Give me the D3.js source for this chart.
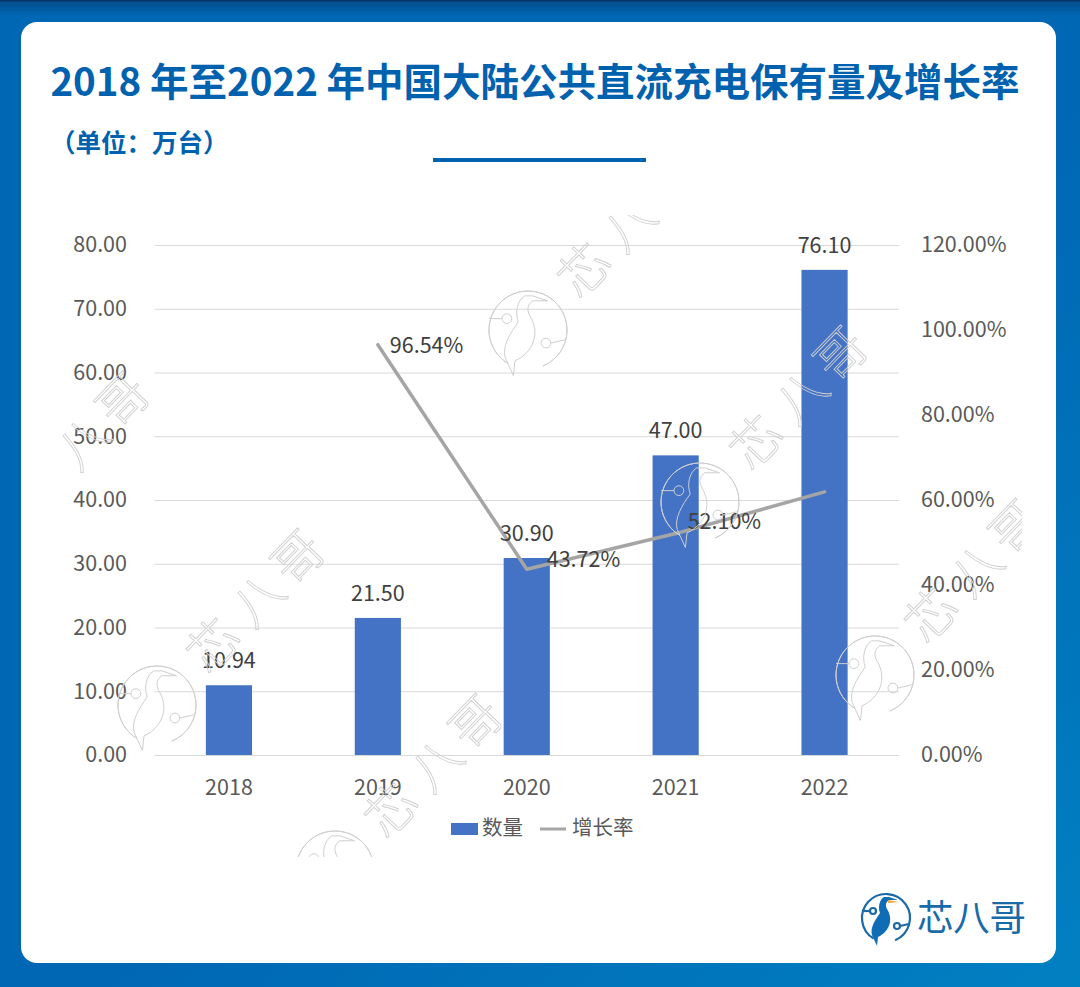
<!DOCTYPE html>
<html>
<head>
<meta charset="utf-8">
<script src="https://cdnjs.cloudflare.com/ajax/libs/d3/7.8.5/d3.min.js"></script>
<style>
  html, body { margin: 0; padding: 0; background: #0067b4; }
  svg { display: block; }
  text { font-family: "Noto Sans CJK SC", "Noto Sans", sans-serif; }
</style>
</head>
<body>
<div id="graph1"></div>
<script>
// data
const years = ["2018", "2019", "2020", "2021", "2022"];
const counts = [10.94, 21.50, 30.90, 47.00, 76.10];
const growth = [null, 96.54, 43.72, 52.10, 61.92];
const growthLabels = [null, "96.54%", "43.72%", "52.10%", null];
const leftTicks = [0, 10, 20, 30, 40, 50, 60, 70, 80];
const rightTicks = [0, 20, 40, 60, 80, 100, 120];
const legendNames = ["数量", "增长率"];

const width = 1080, height = 987;
const blue = "#0062ae", barColor = "#4472c4", lineColor = "#a5a5a5";

const svg = d3.select("#graph1").append("svg")
  .attr("width", width).attr("height", height);

const defs = svg.append("defs");
const bg = defs.append("linearGradient").attr("id", "bg")
  .attr("x1", 0).attr("y1", 0).attr("x2", 1).attr("y2", 1);
bg.append("stop").attr("offset", "55%").attr("stop-color", "#0067b4");
bg.append("stop").attr("offset", "100%").attr("stop-color", "#0180c2");
const topFade = defs.append("linearGradient").attr("id", "topFade")
  .attr("x1", 0).attr("y1", 0).attr("x2", 0).attr("y2", 1);
topFade.append("stop").attr("offset", "0%").attr("stop-color", "#0b2b5c");
topFade.append("stop").attr("offset", "15%").attr("stop-color", "#05508f");
topFade.append("stop").attr("offset", "100%").attr("stop-color", "#0067b4");
defs.append("clipPath").attr("id", "markClip").append("rect")
  .attr("x", 55).attr("y", 215).attr("width", 967).attr("height", 642);

svg.append("rect").attr("width", width).attr("height", height).attr("fill", "url(#bg)");
svg.append("rect").attr("width", width).attr("height", 16).attr("fill", "url(#topFade)");
svg.append("rect").attr("x", 21).attr("y", 22).attr("width", 1035).attr("height", 941)
  .attr("rx", 16).attr("fill", "#fff");

// headings
svg.append("text").attr("x", 535).attr("y", 96).attr("text-anchor", "middle")
  .attr("font-size", 38.5).attr("font-weight", 700).attr("fill", blue)
  .text("2018 年至2022 年中国大陆公共直流充电保有量及增长率");
svg.append("text").attr("x", 50).attr("y", 152)
  .attr("font-size", 25.5).attr("font-weight", 700).attr("fill", blue)
  .text("（单位：万台）");
svg.append("rect").attr("x", 433).attr("y", 158).attr("width", 213).attr("height", 4).attr("fill", blue);

// scales
const x = d3.scaleBand().domain(years).range([154.5, 899]).paddingInner(0.69).paddingOuter(0.345);
const y = d3.scaleLinear().domain([0, 80]).range([755, 245]);
const yRight = d3.scaleLinear().domain([0, 120]).range([755, 245]);
const cx = d => x(d) + x.bandwidth() / 2;

// grid
svg.append("g").attr("transform", "translate(154.5,0)")
  .call(d3.axisLeft(y).tickValues(leftTicks).tickSize(-744.5).tickFormat(""))
  .call(g => g.select(".domain").remove())
  .call(g => g.selectAll("line").attr("stroke", "#d9d9d9").attr("stroke-width", 1));

// axes
function styleAxis(g) {
  g.select(".domain").remove();
  g.selectAll("line").remove();
  g.selectAll("text").attr("font-size", 21.5).attr("fill", "#595959")
    .style("font-family", '"Noto Sans CJK SC", sans-serif');
}
svg.append("g").attr("transform", "translate(127,0)")
  .call(d3.axisLeft(y).tickValues(leftTicks).tickSize(0).tickPadding(0).tickFormat(d3.format(".2f")))
  .call(styleAxis);
svg.append("g").attr("transform", "translate(921,0)")
  .call(d3.axisRight(yRight).tickValues(rightTicks).tickSize(0).tickPadding(0).tickFormat(d => d3.format(".2f")(d) + "%"))
  .call(styleAxis);
svg.append("g").attr("transform", "translate(0,755)")
  .call(d3.axisBottom(x).tickSize(0).tickPadding(25))
  .call(styleAxis);

// bars
svg.append("g").selectAll("rect").data(years).join("rect")
  .attr("x", d => x(d))
  .attr("width", x.bandwidth())
  .attr("y", (d, i) => y(counts[i]))
  .attr("height", (d, i) => y(0) - y(counts[i]))
  .attr("fill", barColor);

// growth line
const line = d3.line()
  .defined(d => d.v !== null)
  .x(d => cx(d.year))
  .y(d => yRight(d.v));
svg.append("path")
  .datum(years.map((year, i) => ({ year: year, v: growth[i] })))
  .attr("d", line)
  .attr("fill", "none").attr("stroke", lineColor).attr("stroke-width", 3.5)
  .attr("stroke-linecap", "round").attr("stroke-linejoin", "round");

// data labels
svg.append("g").selectAll("text").data(years).join("text")
  .attr("x", d => cx(d))
  .attr("y", (d, i) => y(counts[i]) - 17)
  .attr("text-anchor", "middle")
  .attr("font-size", 21.5).attr("fill", "#404040")
  .text((d, i) => d3.format(".2f")(counts[i]));

const nudgeX = [0, 12, 20, 12, 0], nudgeY = [0, 8, -2, -5, 0];
svg.append("g").selectAll("text").data(years.filter((d, i) => growthLabels[i] !== null)).join("text")
  .attr("x", d => cx(d) + nudgeX[years.indexOf(d)])
  .attr("y", d => yRight(growth[years.indexOf(d)]) + nudgeY[years.indexOf(d)])
  .attr("font-size", 21.5).attr("fill", "#404040")
  .text(d => growthLabels[years.indexOf(d)]);

// legend
const legend = svg.append("g");
legend.append("rect").attr("x", 451).attr("y", 823).attr("width", 27).attr("height", 12).attr("fill", barColor);
legend.append("text").attr("x", 482).attr("y", 835).attr("font-size", 20.5).attr("fill", "#595959").text(legendNames[0]);
legend.append("line").attr("x1", 540).attr("x2", 566).attr("y1", 829).attr("y2", 829)
  .attr("stroke", lineColor).attr("stroke-width", 3);
legend.append("text").attr("x", 572).attr("y", 835).attr("font-size", 20.5).attr("fill", "#595959").text(legendNames[1]);

// bird in a ring, used by the logo and the watermarks
function drawBird(g, r, stroke, sw, fill) {
  const k = r / 24;
  g.append("path")
    .attr("d", d3.arc().innerRadius(r).outerRadius(r).startAngle(-2.6).endAngle(2.75)())
    .attr("fill", "none").attr("stroke", stroke).attr("stroke-width", sw);
  g.append("path")
    .attr("d", `M${-2*k} ${-21*k} C${-7*k} ${-18*k} ${-8*k} ${-10*k} ${-6*k} ${-5*k} C${-11*k} ${2*k} ${-16*k} ${10*k} ${-14*k} ${17*k} L${-9*k} ${28*k} L${-8*k} ${19*k} C${3*k} ${14*k} ${8*k} ${2*k} ${1*k} ${-9*k} C${-1*k} ${-13*k} ${0} ${-16*k} ${3*k} ${-18*k} L${12*k} ${-18*k} L${3*k} ${-21*k} Z`)
    .attr("fill", fill).attr("stroke", fill === "none" ? stroke : "none").attr("stroke-width", sw);
  [[-13, -7, -24, -7], [11, 8, 23, 6]].forEach(p => {
    g.append("circle").attr("cx", p[0] * k).attr("cy", p[1] * k).attr("r", 3 * k)
      .attr("fill", fill === "none" ? "none" : "#fff").attr("stroke", stroke).attr("stroke-width", sw);
    g.append("line").attr("x1", (p[0] + (p[2] < 0 ? -3 : 3)) * k).attr("y1", p[1] * k)
      .attr("x2", p[2] * k).attr("y2", p[3] * k).attr("stroke", stroke).attr("stroke-width", sw);
  });
}

// watermarks, the last one runs off the left side so it only shows 八哥
const markSpots = [[157, 705, 0], [528, 330, 0], [700, 502, 0], [875, 675, 0], [335, 870, 0], [-18, 548, 1]];
const markGlyphs = ["芯", "八", "哥"];
const marks = svg.append("g").attr("clip-path", "url(#markClip)");
markSpots.forEach(p => {
  const m = marks.append("g").attr("transform", `translate(${p[0]},${p[1]})`);
  if (p[0] > 0) drawBird(m, 39, "#cfcfcf", 1, "none");
  const t = m.append("g").attr("transform", "rotate(-46)");
  markGlyphs.forEach((c, i) => {
    if (i < p[2]) return;
    t.append("text").attr("x", [82, 146, 204][i]).attr("y", 17)
      .attr("text-anchor", "middle").attr("font-size", 50).attr("font-weight", 300)
      .attr("fill", "none").attr("stroke", "#cfcfcf").attr("stroke-width", 0.9)
      .text(c);
  });
});

// brand logo
const logo = svg.append("g").attr("transform", "translate(886,918)");
drawBird(logo, 24, "#1a6aa8", 2.2, "#0f6cb5");
logo.append("path").attr("d", "M2 -18 L13 -16 L2 -15 Z").attr("fill", "#e8a93a");
svg.append("text").attr("x", 917).attr("y", 931).attr("font-size", 36.5).attr("fill", "#1a6aa8")
  .attr("textLength", 109).attr("lengthAdjust", "spacing").text("芯八哥");
</script>
</body>
</html>
